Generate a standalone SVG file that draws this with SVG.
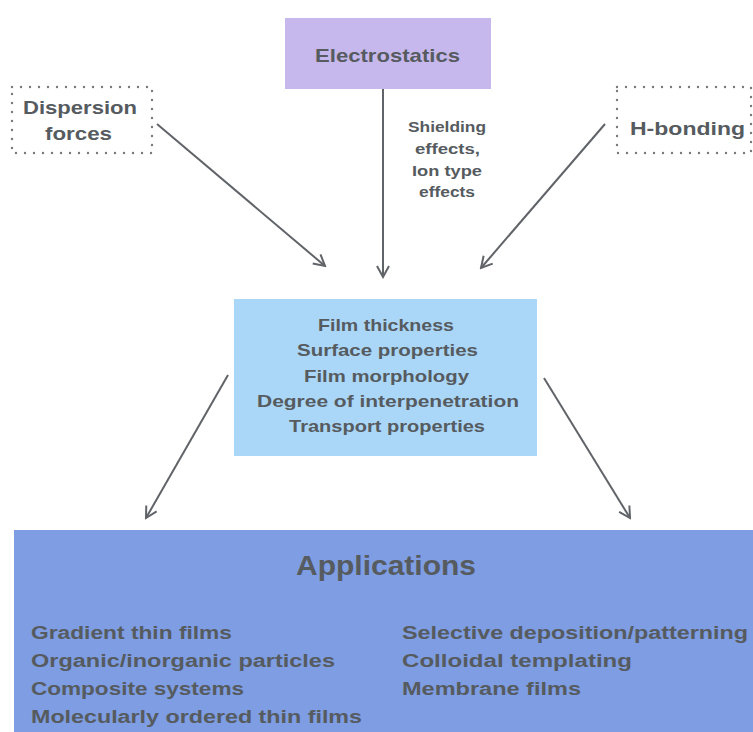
<svg xmlns="http://www.w3.org/2000/svg" width="753" height="732" viewBox="0 0 753 732">
<style>
text{font-family:"Liberation Sans",Arial,sans-serif;font-weight:bold;fill:#565b5f}
.dot{fill:none;stroke:#7a7a7a;stroke-width:2.4;stroke-dasharray:0 9;stroke-linecap:round}
.c{text-anchor:middle}
.conn line{stroke:#606468;stroke-width:2}
</style>
<defs>
<marker id="ah" viewBox="0 0 14 14" refX="12" refY="7" markerWidth="14" markerHeight="14" markerUnits="userSpaceOnUse" orient="auto">
<path d="M1,1 L12,7 L1,13" fill="none" stroke="#606468" stroke-width="2"/>
</marker>
</defs>
<rect width="753" height="732" fill="#fff"/>
<g id="electrostatics">
<rect x="285" y="18" width="206" height="71" fill="#c6b8ec"/>
<text x="315" y="62" font-size="19" textLength="145" lengthAdjust="spacingAndGlyphs">Electrostatics</text>
</g>
<g id="dispersion">
<rect x="12" y="87" width="140" height="66" class="dot"/>
<text x="23" y="114" font-size="19" textLength="114" lengthAdjust="spacingAndGlyphs">Dispersion</text>
<text x="45" y="140" font-size="19" textLength="67" lengthAdjust="spacingAndGlyphs">forces</text>
</g>
<g id="hbonding">
<rect x="617" y="87" width="134" height="66" class="dot"/>
<text x="630" y="135" font-size="19" textLength="115" lengthAdjust="spacingAndGlyphs">H-bonding</text>
</g>
<g id="properties">
<rect x="234" y="299" width="303" height="157" fill="#aad6f7"/>
<text x="318" y="331" font-size="17" textLength="136" lengthAdjust="spacingAndGlyphs">Film thickness</text>
<text x="297" y="356" font-size="17" textLength="181" lengthAdjust="spacingAndGlyphs">Surface properties</text>
<text x="304" y="382" font-size="17" textLength="165" lengthAdjust="spacingAndGlyphs">Film morphology</text>
<text x="257" y="407" font-size="17" textLength="262" lengthAdjust="spacingAndGlyphs">Degree of interpenetration</text>
<text x="289" y="432" font-size="17" textLength="196" lengthAdjust="spacingAndGlyphs">Transport properties</text>
</g>
<g id="applications">
<rect x="14" y="530" width="739" height="202" fill="#7e9de2"/>
<text x="296" y="575" font-size="27" font-weight="normal" textLength="180" lengthAdjust="spacingAndGlyphs">Applications</text>
<text x="31" y="639" font-size="18" textLength="201" lengthAdjust="spacingAndGlyphs">Gradient thin films</text>
<text x="31" y="667" font-size="18" textLength="304" lengthAdjust="spacingAndGlyphs">Organic/inorganic particles</text>
<text x="31" y="695" font-size="18" textLength="213" lengthAdjust="spacingAndGlyphs">Composite systems</text>
<text x="31" y="723" font-size="18" textLength="331" lengthAdjust="spacingAndGlyphs">Molecularly ordered thin films</text>
<text x="402" y="639" font-size="18" textLength="346" lengthAdjust="spacingAndGlyphs">Selective deposition/patterning</text>
<text x="402" y="667" font-size="18" textLength="230" lengthAdjust="spacingAndGlyphs">Colloidal templating</text>
<text x="402" y="695" font-size="18" textLength="179" lengthAdjust="spacingAndGlyphs">Membrane films</text>
</g>
<g id="connectors" class="conn">
<line x1="157" y1="124" x2="325" y2="266" marker-end="url(#ah)"/>
<line x1="383" y1="89" x2="383" y2="277" marker-end="url(#ah)"/>
<line x1="605" y1="124" x2="481" y2="268" marker-end="url(#ah)"/>
<line x1="228" y1="375" x2="146" y2="518" marker-end="url(#ah)"/>
<line x1="544" y1="378" x2="630" y2="518" marker-end="url(#ah)"/>
</g>
<g id="label">
<text x="408" y="132" font-size="14" textLength="78" lengthAdjust="spacingAndGlyphs">Shielding</text>
<text x="415" y="154" font-size="14" textLength="65" lengthAdjust="spacingAndGlyphs">effects,</text>
<text x="412" y="176" font-size="14" textLength="70" lengthAdjust="spacingAndGlyphs">Ion type</text>
<text x="419" y="197" font-size="14" textLength="56" lengthAdjust="spacingAndGlyphs">effects</text>
</g>
</svg>
